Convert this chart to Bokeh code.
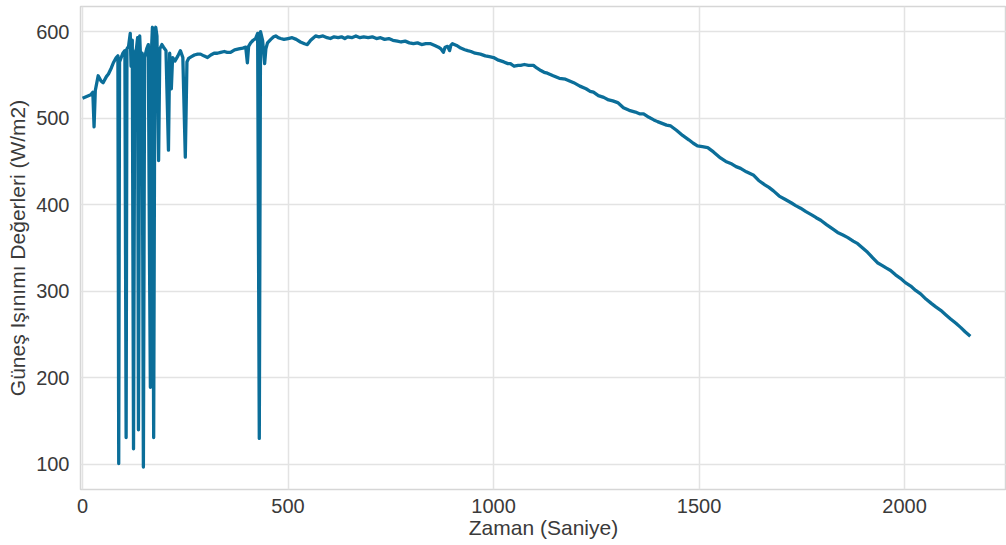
from bokeh.plotting import figure
from bokeh.models import Range1d, FixedTicker
from bokeh.embed import file_html
from bokeh.resources import INLINE

# Time (seconds)
zaman = [0, 10, 20, 25, 28, 31, 38, 45, 50, 58, 63, 70, 75, 82, 86, 88, 90, 98, 103, 106,
         108, 112, 116, 118, 121, 124, 127, 131, 134, 136, 139, 142, 145, 148, 151, 156, 160, 163, 165, 167,
         170, 173, 176, 178, 181, 185, 188, 193, 197, 203, 209, 212, 216, 219, 225, 232, 238, 244, 250, 254,
         258, 265, 272, 280, 287, 295, 304, 312, 320, 328, 336, 345, 352, 360, 370, 380, 390, 397, 401, 404,
         409, 415, 421, 426, 430, 433, 438, 443, 446, 450, 458, 465, 470, 476, 482, 490, 500, 510, 520, 530,
         540, 547, 555, 562, 567, 575, 585, 595, 603, 612, 622, 630, 638, 645, 655, 665, 675, 684, 695, 705,
         715, 725, 735, 745, 755, 766, 775, 785, 795, 805, 815, 825, 835, 847, 857, 866, 872, 878, 882, 888,
         893, 896, 900, 910, 920, 930, 937, 945, 955, 968, 980, 990, 1000, 1012, 1025, 1035, 1041, 1050, 1060, 1066,
         1075, 1085, 1097, 1105, 1115, 1123, 1131, 1145, 1160, 1175, 1185, 1195, 1210, 1225, 1235, 1243, 1255, 1268, 1280, 1290,
         1302, 1316, 1330, 1345, 1355, 1365, 1378, 1390, 1399, 1410, 1421, 1431, 1445, 1460, 1475, 1486, 1496, 1508, 1521, 1535,
         1552, 1565, 1580, 1590, 1601, 1615, 1633, 1645, 1660, 1670, 1681, 1695, 1710, 1725, 1735, 1747, 1760, 1775, 1785, 1796,
         1810, 1825, 1837, 1850, 1862, 1875, 1886, 1898, 1910, 1922, 1934, 1945, 1955, 1966, 1978, 1990, 2002, 2015, 2027, 2039,
         2052, 2065, 2076, 2088, 2100, 2112, 2125, 2137, 2148, 2160]

# Solar irradiance (W/m2)
isinim = [523, 525, 527, 530, 490, 532, 549, 543, 541, 548, 551, 558, 564, 570, 572, 101, 565, 575, 578, 131,
          580, 583, 598, 560, 590, 118, 575, 580, 593, 140, 595, 560, 575, 97, 570, 580, 585, 330, 189, 570,
          605, 131, 600, 605, 595, 451, 580, 585, 582, 578, 463, 575, 534, 570, 566, 572, 578, 570, 455, 565,
          569, 571, 573, 574, 574, 572, 570, 573, 575, 575, 576, 577, 576, 576, 579, 580, 581, 582, 564, 583,
          587, 590, 592, 598, 130, 600, 590, 563, 580, 587, 591, 594, 595, 593, 592, 591, 592, 593, 591, 588,
          586, 585, 590, 593, 595, 594, 595, 593, 592, 594, 593, 594, 592, 594, 593, 595, 593, 594, 593, 594,
          592, 593, 591, 592, 590, 589, 588, 589, 587, 586, 587, 585, 586, 586, 584, 582, 580, 576, 582, 583,
          578, 584, 586, 584, 581, 579, 578, 577, 575, 574, 572, 571, 570, 567, 565, 563, 563, 560, 561, 561,
          562, 561, 561, 558, 555, 553, 552, 549, 546, 545, 543, 541, 537, 534, 531, 530, 526, 524, 521, 520,
          518, 512, 509, 507, 505, 505, 501, 498, 496, 494, 492, 491, 486, 480, 475, 471, 468, 467, 466, 461,
          454, 450, 447, 444, 442, 438, 434, 428, 423, 420, 416, 410, 406, 402, 399, 396, 392, 388, 385, 382,
          377, 372, 368, 365, 362, 358, 355, 350, 345, 339, 333, 330, 327, 324, 319, 315, 310, 306, 301, 297,
          291, 286, 282, 278, 273, 268, 263, 258, 253, 248]

x_ticks = [0, 500, 1000, 1500, 2000]
y_ticks = [100, 200, 300, 400, 500, 600]

FONT = "Liberation Sans"

p = figure(width=1006, height=545, output_backend="svg", toolbar_location=None,
           x_range=Range1d(-5, 2248), y_range=Range1d(71, 629),
           min_border_left=80, min_border_right=0, min_border_top=6, min_border_bottom=56)

p.line(zaman, isinim, line_color="#0b6e99", line_width=3.3, line_join="round")

p.background_fill_color = "white"
p.border_fill_color = "white"
p.outline_line_color = "#d6d6d6"
p.outline_line_width = 1.5

for ax in (p.xaxis, p.yaxis):
    ax.axis_line_color = None
    ax.major_tick_line_color = None
    ax.minor_tick_line_color = None
    ax.major_label_text_font = FONT
    ax.major_label_text_font_size = "20px"
    ax.major_label_text_color = "#3a3a3a"
    ax.axis_label_text_font = FONT
    ax.axis_label_text_font_style = "normal"
    ax.axis_label_text_color = "#3a3a3a"

p.xaxis.axis_label_text_font_size = "21px"
p.yaxis.axis_label_text_font_size = "21px"
p.xaxis.ticker = FixedTicker(ticks=x_ticks)
p.yaxis.ticker = FixedTicker(ticks=y_ticks)
p.xaxis.axis_label = "Zaman (Saniye)"
p.yaxis.axis_label = "Güneş Işınımı Değerleri (W/m2)"
p.xaxis.major_label_standoff = 3
p.yaxis.major_label_standoff = 5
p.xaxis.axis_label_standoff = 0
p.yaxis.axis_label_standoff = 4

p.xgrid.ticker = FixedTicker(ticks=x_ticks)
p.ygrid.ticker = FixedTicker(ticks=y_ticks)
p.xgrid.grid_line_color = "#e3e3e3"
p.ygrid.grid_line_color = "#e3e3e3"
p.xgrid.grid_line_width = 1.5
p.ygrid.grid_line_width = 1.5

open("out.html", "w").write(file_html(p, INLINE))
